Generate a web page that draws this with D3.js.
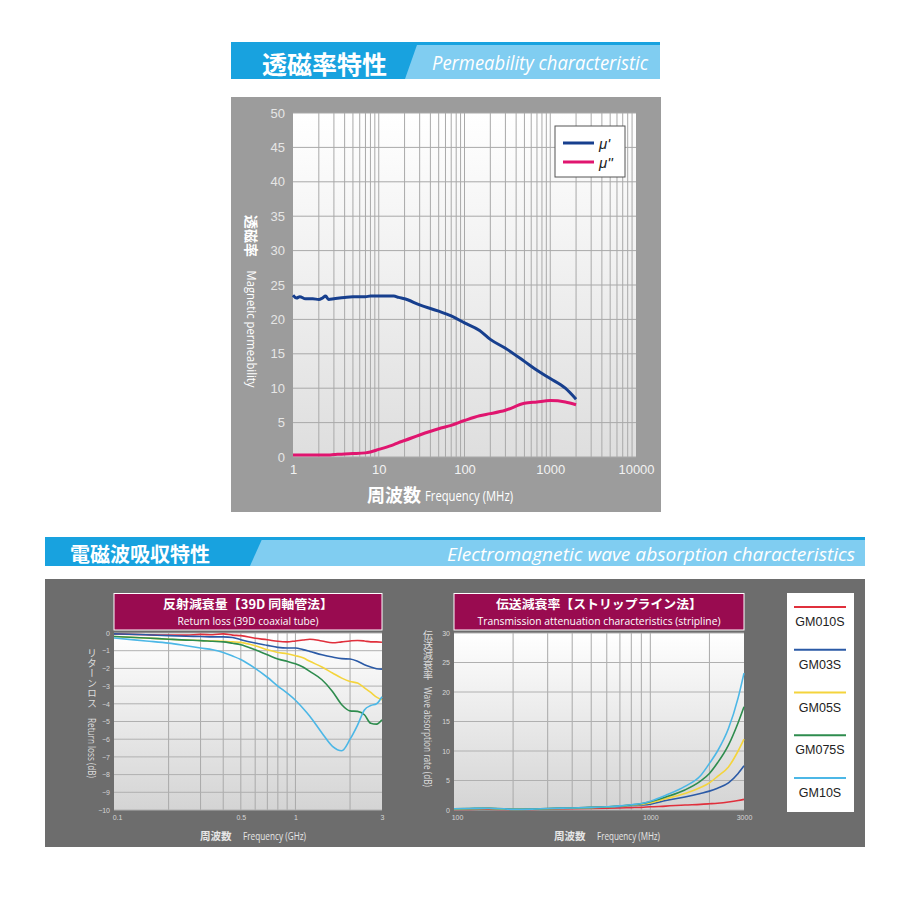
<!DOCTYPE html>
<html>
<head>
<meta charset="utf-8">
<script src="https://d3js.org/d3.v7.min.js"></script>
<style>
  body { margin: 0; background: #fff; }
  text { font-family: "Noto Sans CJK JP", "Noto Sans", sans-serif; }
  .num { font-family: "Liberation Sans", Arial, sans-serif; }
  .narrow { font-family: "Open Sans", "Noto Sans", sans-serif; }
</style>
</head>
<body>
<div id="chart"></div>
<script>
// ---- permeability (top chart) ----
const permFreq = [1, 1.1, 1.2, 1.4, 1.7, 2, 2.2, 2.4, 2.6, 3, 4, 5, 7, 8, 10, 15, 17, 20, 30, 50, 70, 100, 150, 200, 300, 500, 700, 1000, 1500, 2000];
const muReal   = [23.5, 23.1, 23.3, 23.0, 23.0, 22.9, 23.1, 23.4, 22.9, 23.0, 23.2, 23.3, 23.3, 23.4, 23.4, 23.4, 23.2, 23.0, 22.1, 21.2, 20.5, 19.5, 18.4, 17.1, 15.8, 13.9, 12.6, 11.4, 10.0, 8.4];
const muImag   = [0.3, 0.3, 0.3, 0.3, 0.3, 0.3, 0.3, 0.3, 0.3, 0.35, 0.45, 0.5, 0.6, 0.73, 1.1, 1.8, 2.1, 2.4, 3.2, 4.1, 4.6, 5.3, 6.0, 6.3, 6.8, 7.8, 8.0, 8.2, 8.0, 7.6];
const permYTicks = [0, 5, 10, 15, 20, 25, 30, 35, 40, 45, 50];
const permXTicks = [1, 10, 100, 1000, 10000];

// ---- return loss (bottom left), GHz / dB ----
const rlFreq = [0.1, 0.15, 0.2, 0.25, 0.3, 0.35, 0.4, 0.45, 0.5, 0.6, 0.7, 0.8, 0.9, 1.0, 1.1, 1.2, 1.4, 1.6, 1.8, 2.0, 2.2, 2.4, 2.6, 2.8, 3.0];
const rlGM010S = [-0.05, -0.1, -0.12, -0.12, -0.08, -0.1, -0.05, -0.12, -0.15, -0.3, -0.38, -0.47, -0.5, -0.45, -0.4, -0.35, -0.45, -0.55, -0.5, -0.45, -0.42, -0.45, -0.5, -0.5, -0.52];
const rlGM03S  = [-0.05, -0.1, -0.15, -0.18, -0.2, -0.22, -0.22, -0.25, -0.38, -0.57, -0.7, -0.81, -0.85, -0.85, -0.94, -1.04, -1.23, -1.36, -1.45, -1.47, -1.6, -1.79, -1.92, -2.02, -2.04];
const rlGM05S  = [-0.2, -0.28, -0.35, -0.4, -0.42, -0.45, -0.47, -0.5, -0.53, -0.72, -0.95, -1.1, -1.17, -1.28, -1.4, -1.6, -1.92, -2.26, -2.55, -2.74, -2.83, -3.1, -3.36, -3.62, -3.77];
const rlGM075S = [-0.2, -0.28, -0.35, -0.4, -0.43, -0.47, -0.5, -0.58, -0.66, -0.95, -1.23, -1.47, -1.6, -1.74, -1.92, -2.17, -2.64, -3.3, -4.05, -4.4, -4.43, -4.62, -5.1, -5.15, -4.9];
const rlGM10S  = [-0.28, -0.45, -0.57, -0.72, -0.85, -0.95, -1.1, -1.3, -1.5, -2.0, -2.5, -3.0, -3.4, -3.8, -4.25, -4.7, -5.65, -6.4, -6.65, -6.0, -5.2, -4.35, -4.1, -4.0, -3.6];
const rlYTicks = [0, -1, -2, -3, -4, -5, -6, -7, -8, -9, -10];
const rlXTicks = [0.1, 0.5, 1, 3];

// ---- transmission attenuation (bottom right), MHz / dB ----
const taFreq = [100, 120, 150, 180, 200, 250, 300, 400, 500, 600, 700, 800, 900, 1000, 1200, 1500, 1800, 2000, 2200, 2500, 2800, 3000];
const taGM010S = [0.1, 0.1, 0.15, 0.1, 0.05, 0.1, 0.15, 0.2, 0.25, 0.3, 0.35, 0.4, 0.45, 0.55, 0.65, 0.85, 0.95, 1.05, 1.15, 1.35, 1.6, 1.8];
const taGM03S  = [0.15, 0.2, 0.25, 0.15, 0.1, 0.15, 0.2, 0.3, 0.4, 0.5, 0.6, 0.75, 0.85, 1.0, 1.6, 2.2, 2.8, 3.2, 3.7, 4.6, 6.2, 7.5];
const taGM05S  = [0.15, 0.2, 0.25, 0.15, 0.1, 0.15, 0.2, 0.3, 0.4, 0.5, 0.65, 0.8, 0.95, 1.2, 1.9, 2.8, 3.8, 4.6, 5.7, 7.3, 10.0, 12.0];
const taGM075S = [0.2, 0.25, 0.3, 0.2, 0.1, 0.15, 0.25, 0.35, 0.45, 0.55, 0.7, 0.85, 1.05, 1.4, 2.2, 3.4, 4.9, 6.2, 8.0, 11.0, 14.8, 17.5];
const taGM10S  = [0.2, 0.25, 0.3, 0.2, 0.1, 0.15, 0.25, 0.35, 0.45, 0.55, 0.7, 0.9, 1.1, 1.5, 2.5, 4.0, 5.8, 7.9, 10.0, 13.8, 19.0, 23.2];
const taYTicks = [0, 5, 10, 15, 20, 25, 30];
const taXTicks = [100, 1000, 3000];

const grades = ["GM010S", "GM03S", "GM05S", "GM075S", "GM10S"];
const gradeColors = ["#e0303c", "#2b5aa6", "#f4d43c", "#2e8c4e", "#4cb7e6"];

const svg = d3.select("#chart").append("svg")
    .attr("width", 900).attr("height", 900);
const defs = svg.append("defs");

function vGradient(id, stops) {
  const g = defs.append("linearGradient").attr("id", id)
      .attr("x1", 0).attr("y1", 0).attr("x2", 0).attr("y2", 1);
  stops.forEach(s => g.append("stop").attr("offset", s[0]).attr("stop-color", s[1]));
}
vGradient("bgTop", [[0, "#ffffff"], [0.35, "#f4f4f4"], [1, "#dedede"]]);
vGradient("bgBot", [[0, "#ffffff"], [0.2, "#f6f6f6"], [1, "#d4d4d4"]]);

// section banner
function banner(x, y, w, h, cut, jp, jpX, jpSize, en, enX, enW, enSize) {
  const g = svg.append("g");
  g.append("rect").attr("x", x).attr("y", y).attr("width", w).attr("height", h).attr("fill", "#80cdf1");
  g.append("path").attr("d", `M${x},${y}H${cut + 13}L${cut},${y + h}H${x}Z`).attr("fill", "#18a2df");
  g.append("rect").attr("x", x).attr("y", y).attr("width", w).attr("height", 3).attr("fill", "#18a2df");
  g.append("text").attr("x", jpX).attr("y", y + h / 2 + 2).attr("dominant-baseline", "central")
      .attr("fill", "#fff").attr("font-size", jpSize).attr("font-weight", "bold").text(jp);
  g.append("text").attr("class", "narrow").attr("x", enX).attr("y", y + h / 2 + 2).attr("dominant-baseline", "central")
      .attr("fill", "#fff").attr("font-size", enSize).attr("font-style", "italic")
      .attr("textLength", enW).attr("lengthAdjust", "spacingAndGlyphs").text(en);
}
banner(231, 42, 429, 37, 405, "透磁率特性", 262, 25, "Permeability characteristic", 432, 216, 20);
banner(45, 537, 820, 29, 250, "電磁波吸収特性", 70, 20, "Electromagnetic wave absorption characteristics", 447, 408, 18);

function logGrid(g, x, y, domain) {
  const lines = [];
  const d0 = Math.floor(Math.log10(domain[0])), d1 = Math.ceil(Math.log10(domain[1]));
  for (let d = d0; d <= d1; d++)
    for (let k = 1; k <= 9; k++) {
      const v = k * Math.pow(10, d);
      if (v > domain[0] * 1.0001 && v < domain[1] * 0.9999) lines.push(v);
    }
  g.selectAll(".vg").data(lines).join("line")
      .attr("x1", d => x(d)).attr("x2", d => x(d))
      .attr("y1", y.range()[1]).attr("y2", y.range()[0])
      .attr("stroke", "#a9a9a9").attr("stroke-width", 1);
}

// ================= top chart =================
svg.append("rect").attr("x", 231).attr("y", 97).attr("width", 430).attr("height", 415).attr("fill", "#9c9c9c");
const tx = d3.scaleLog().domain([1, 10000]).range([293, 636]);
const ty = d3.scaleLinear().domain([0, 50]).range([457, 113]);
const topG = svg.append("g");
topG.append("rect").attr("x", 293).attr("y", 113).attr("width", 343).attr("height", 344).attr("fill", "url(#bgTop)");
logGrid(topG, tx, ty, tx.domain());
topG.selectAll(".hg").data(permYTicks).join("line")
    .attr("x1", 293).attr("x2", 636).attr("y1", d => ty(d)).attr("y2", d => ty(d))
    .attr("stroke", "#a9a9a9").attr("stroke-width", 1);

const permLine = d3.line().x(d => tx(d[0])).y(d => ty(d[1])).curve(d3.curveMonotoneX);
topG.append("path").datum(d3.zip(permFreq, muImag)).attr("d", permLine)
    .attr("fill", "none").attr("stroke", "#e0156f").attr("stroke-width", 3);
topG.append("path").datum(d3.zip(permFreq, muReal)).attr("d", permLine)
    .attr("fill", "none").attr("stroke", "#173f8e").attr("stroke-width", 3);

const tyAxis = svg.append("g").attr("transform", "translate(293,0)")
    .call(d3.axisLeft(ty).tickValues(permYTicks).tickSize(0).tickPadding(8));
tyAxis.select(".domain").remove();
tyAxis.selectAll("text").attr("class", "num").attr("font-size", 13).attr("fill", "#e6e6e6");
const txAxis = svg.append("g").attr("transform", "translate(0,457)")
    .call(d3.axisBottom(tx).tickValues(permXTicks).tickFormat(d3.format("d")).tickSize(0).tickPadding(8));
txAxis.select(".domain").remove();
txAxis.selectAll("text").attr("class", "num").attr("font-size", 13).attr("fill", "#f2f2f2");

// legend
const tl = svg.append("g");
tl.append("rect").attr("x", 555).attr("y", 126).attr("width", 70).attr("height", 51)
    .attr("fill", "#fff").attr("stroke", "#555").attr("stroke-width", 1);
[["#173f8e", "μ'"], ["#e0156f", "μ''"]].forEach((s, i) => {
  tl.append("line").attr("x1", 563).attr("x2", 594).attr("y1", 143 + i * 19).attr("y2", 143 + i * 19)
      .attr("stroke", s[0]).attr("stroke-width", 3);
  tl.append("text").attr("x", 599).attr("y", 143 + i * 19).attr("dominant-baseline", "central")
      .attr("class", "num").attr("font-style", "italic").attr("font-size", 15).attr("fill", "#222").text(s[1]);
});

// axis titles
svg.append("text").attr("transform", "translate(252,236) rotate(90)")
    .attr("text-anchor", "middle").attr("dominant-baseline", "central").attr("fill", "#fff")
    .attr("font-size", 14).attr("font-weight", "bold").text("透磁率");
svg.append("text").attr("class", "narrow").attr("transform", "translate(252,329) rotate(90)")
    .attr("text-anchor", "middle").attr("dominant-baseline", "central").attr("fill", "#fff")
    .attr("font-size", 13).attr("textLength", 117).attr("lengthAdjust", "spacingAndGlyphs")
    .text("Magnetic permeability");
svg.append("text").attr("x", 367).attr("y", 494).attr("dominant-baseline", "central").attr("fill", "#fff")
    .attr("font-size", 18).attr("font-weight", "bold").text("周波数");
svg.append("text").attr("class", "narrow").attr("x", 425).attr("y", 495).attr("dominant-baseline", "central")
    .attr("fill", "#fff").attr("font-size", 14).attr("textLength", 88).attr("lengthAdjust", "spacingAndGlyphs")
    .text("Frequency (MHz)");

// ================= bottom section =================
svg.append("rect").attr("x", 45).attr("y", 579).attr("width", 820).attr("height", 268).attr("fill", "#6d6d6d");

function smallChart(cfg) {
  const g = svg.append("g");
  const x = d3.scaleLog().domain(cfg.xDomain).range([cfg.x0, cfg.x1]);
  const y = d3.scaleLinear().domain(cfg.yDomain).range([810, 633]);
  g.append("rect").attr("x", cfg.x0).attr("y", 633).attr("width", cfg.x1 - cfg.x0).attr("height", 177)
      .attr("fill", "url(#bgBot)");
  logGrid(g, x, y, cfg.xDomain);
  g.selectAll(".hg").data(cfg.yTicks).join("line")
      .attr("x1", cfg.x0).attr("x2", cfg.x1).attr("y1", d => y(d)).attr("y2", d => y(d))
      .attr("stroke", "#b0b0b0").attr("stroke-width", 1);
  const line = d3.line().x(d => x(d[0])).y(d => y(d[1])).curve(d3.curveMonotoneX);
  cfg.series.forEach((s, i) => {
    g.append("path").datum(d3.zip(cfg.freq, s)).attr("d", line)
        .attr("fill", "none").attr("stroke", gradeColors[i]).attr("stroke-width", 1.6);
  });
  const ya = svg.append("g").attr("transform", `translate(${cfg.x0},0)`)
      .call(d3.axisLeft(y).tickValues(cfg.yTicks).tickSize(0).tickPadding(4));
  ya.select(".domain").remove();
  ya.selectAll("text").attr("class", "num").attr("font-size", 7).attr("fill", "#d6d6d6");
  const xa = svg.append("g").attr("transform", "translate(0,810)")
      .call(d3.axisBottom(x).tickValues(cfg.xTicks).tickFormat(d => String(d)).tickSize(0).tickPadding(5));
  xa.select(".domain").remove();
  xa.selectAll("text").attr("class", "num").attr("font-size", 7).attr("fill", "#d6d6d6");
  xa.selectAll(".tick").filter((d, i) => i === 0).select("text").attr("dx", 3);

  // title box
  g.append("rect").attr("x", cfg.x0).attr("y", 593.5).attr("width", cfg.x1 - cfg.x0).attr("height", 36.5)
      .attr("fill", "#990b50").attr("stroke", "#fff").attr("stroke-width", 1);
  const cx = (cfg.x0 + cfg.x1) / 2;
  g.append("text").attr("x", cx).attr("y", 603).attr("text-anchor", "middle").attr("dominant-baseline", "central")
      .attr("fill", "#fff").attr("font-size", 12.5).attr("font-weight", "bold")
      .attr("textLength", cfg.t1w).attr("lengthAdjust", "spacingAndGlyphs").text(cfg.title1);
  g.append("text").attr("class", "narrow").attr("x", cx).attr("y", 620.5).attr("text-anchor", "middle")
      .attr("dominant-baseline", "central").attr("fill", "#fff").attr("font-size", 11.5)
      .attr("textLength", cfg.t2w).attr("lengthAdjust", "spacingAndGlyphs").text(cfg.title2);

  // y title: upright japanese then rotated english
  g.append("text").attr("x", cfg.ytX).attr("y", cfg.jpY).attr("fill", "#dcdcdc").attr("font-size", 10)
      .style("writing-mode", "vertical-rl").style("text-orientation", "upright").text(cfg.yJp);
  g.append("text").attr("class", "narrow").attr("transform", `translate(${cfg.ytX},${cfg.enY}) rotate(90)`)
      .attr("text-anchor", "middle").attr("dominant-baseline", "central").attr("fill", "#dcdcdc")
      .attr("font-size", 10).attr("textLength", cfg.enW).attr("lengthAdjust", "spacingAndGlyphs").text(cfg.yEn);
  // x title
  g.append("text").attr("x", cfg.xtX).attr("y", 835).attr("dominant-baseline", "central").attr("fill", "#e6e6e6")
      .attr("font-size", 10.5).attr("font-weight", "bold").text("周波数");
  g.append("text").attr("class", "narrow").attr("x", cfg.xtX + 43).attr("y", 835.5).attr("dominant-baseline", "central")
      .attr("fill", "#e6e6e6").attr("font-size", 10).attr("textLength", 63).attr("lengthAdjust", "spacingAndGlyphs")
      .text(cfg.xEn);
}

smallChart({
  x0: 114, x1: 382, xDomain: [0.1, 3], yDomain: [-10, 0], yTicks: rlYTicks, xTicks: rlXTicks,
  freq: rlFreq, series: [rlGM010S, rlGM03S, rlGM05S, rlGM075S, rlGM10S],
  title1: "反射減衰量【39D 同軸管法】", t1w: 170, title2: "Return loss (39D coaxial tube)", t2w: 141,
  yJp: "リターンロス", yEn: "Return loss (dB)", enW: 60, ytX: 92, jpY: 648, enY: 748,
  xEn: "Frequency (GHz)", xtX: 200
});
smallChart({
  x0: 454, x1: 744, xDomain: [100, 3000], yDomain: [0, 30], yTicks: taYTicks, xTicks: taXTicks,
  freq: taFreq, series: [taGM010S, taGM03S, taGM05S, taGM075S, taGM10S],
  title1: "伝送減衰率【ストリップライン法】", t1w: 206, title2: "Transmission attenuation characteristics (stripline)", t2w: 243,
  yJp: "伝送減衰率", yEn: "Wave absorption rate (dB)", enW: 100, ytX: 428, jpY: 630, enY: 737,
  xEn: "Frequency (MHz)", xtX: 554
});

// grade legend
const lg = svg.append("g");
lg.append("rect").attr("x", 787).attr("y", 593).attr("width", 67).attr("height", 219).attr("fill", "#fff");
const ly = d3.scalePoint().domain(grades).range([607, 778]);
lg.selectAll(".ll").data(grades).join("line")
    .attr("x1", 794).attr("x2", 846).attr("y1", d => ly(d)).attr("y2", d => ly(d))
    .attr("stroke", (d, i) => gradeColors[i]).attr("stroke-width", 2);
lg.selectAll(".lt").data(grades).join("text")
    .attr("class", "num").attr("x", 820).attr("y", d => ly(d) + 15).attr("text-anchor", "middle")
    .attr("dominant-baseline", "central").attr("font-size", 12.5).attr("fill", "#222").text(d => d);
</script>
</body>
</html>
